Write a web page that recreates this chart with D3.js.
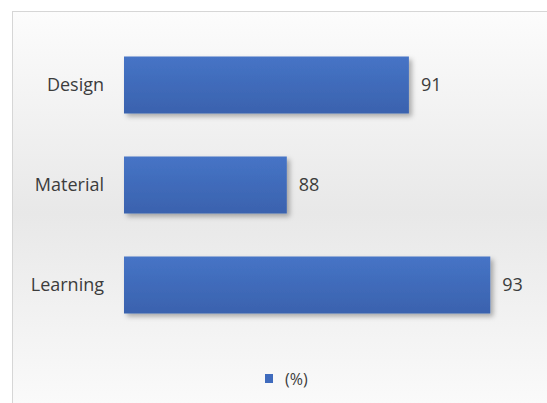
<!DOCTYPE html>
<html>
<head>
<meta charset="utf-8">
<script src="https://cdn.jsdelivr.net/npm/d3@7"></script>
<style>
  body { margin: 0; background: #fff; }
  text { font-family: "Open Sans", "Liberation Sans", sans-serif; fill: #3c3c3c; }
</style>
</head>
<body>
<div id="chart"></div>
<script>
// data
const categories = ["Design", "Material", "Learning"];
const values = [91, 88, 93];
const seriesName = "(%)";

const W = 547, H = 403;

const svg = d3.select("#chart")
    .append("svg")
    .attr("width", W)
    .attr("height", H);

const defs = svg.append("defs");

// chart area background: light at top and bottom, grey in the middle
const bg = defs.append("linearGradient")
    .attr("id", "bg").attr("x1", 0).attr("y1", 0).attr("x2", 0).attr("y2", 1);
bg.append("stop").attr("offset", "0%").attr("stop-color", "#fcfcfc");
bg.append("stop").attr("offset", "50%").attr("stop-color", "#e8e8e8");
bg.append("stop").attr("offset", "100%").attr("stop-color", "#fbfbfb");

// bar gradient
const bar = defs.append("linearGradient")
    .attr("id", "bar").attr("x1", 0).attr("y1", 0).attr("x2", 0).attr("y2", 1);
bar.append("stop").attr("offset", "0%").attr("stop-color", "#4674c6");
bar.append("stop").attr("offset", "100%").attr("stop-color", "#3a62ae");

// soft shadow under bars
const shadow = defs.append("filter").attr("id", "shadow")
    .attr("x", "-5%").attr("y", "-10%").attr("width", "115%").attr("height", "140%");
shadow.append("feDropShadow")
    .attr("dx", 3).attr("dy", 3).attr("stdDeviation", 2.5)
    .attr("flood-color", "#000").attr("flood-opacity", 0.3);

svg.append("rect")
    .attr("x", 12.5).attr("y", 11.5)
    .attr("width", W).attr("height", H)
    .attr("fill", "url(#bg)")
    .attr("stroke", "#d6d6d6");

// scales
const x = d3.scaleLinear()
    .domain([84, 94])
    .range([124, 531]);

const y = d3.scaleBand()
    .domain(categories)
    .range([35, 335])
    .paddingInner(0.43)
    .paddingOuter(0.215);

// category labels
svg.append("g")
    .selectAll("text")
    .data(categories)
    .join("text")
    .attr("x", 104)
    .attr("y", d => y(d) + y.bandwidth() / 2)
    .attr("dy", "0.35em")
    .attr("text-anchor", "end")
    .attr("font-size", 18)
    .text(d => d);

// bars
svg.append("g")
    .selectAll("rect")
    .data(values)
    .join("rect")
    .attr("x", x(84))
    .attr("y", (d, i) => y(categories[i]))
    .attr("width", d => x(d) - x(84))
    .attr("height", y.bandwidth())
    .attr("fill", "url(#bar)")
    .attr("filter", "url(#shadow)");

// value labels
svg.append("g")
    .selectAll("text")
    .data(values)
    .join("text")
    .attr("x", d => x(d) + 12)
    .attr("y", (d, i) => y(categories[i]) + y.bandwidth() / 2)
    .attr("dy", "0.35em")
    .attr("font-size", 18)
    .text(d => d);

// legend
const legend = svg.append("g").attr("transform", "translate(265, 379)");
legend.append("rect")
    .attr("x", 0).attr("y", -5)
    .attr("width", 8).attr("height", 9)
    .attr("fill", "#3f6bbd");
legend.append("text")
    .attr("x", 20)
    .attr("dy", "0.35em")
    .attr("font-size", 16)
    .text(seriesName);
</script>
</body>
</html>
